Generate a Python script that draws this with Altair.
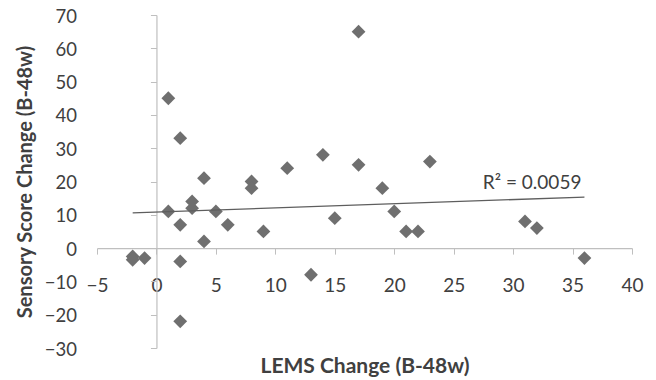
import altair as alt
import pandas as pd

# Data (LEMS change vs sensory score change)
lems = [1, 2, 4, 3, 3, 5, 6, 4, 8, 8, 9, 11, -2, -2, -1, 2, 2, 1, 2,
        17, 14, 17, 23, 19, 15, 20, 21, 22, 13, 31, 32, 36]
sensory = [11, 7, 21, 14, 12, 11, 7, 2, 20, 18, 5, 24, -2.5, -3.5, -3, -4, -22, 45, 33,
           65, 28, 25, 26, 18, 9, 11, 5, 5, -8, 8, 6, -3]

x_ticks = [-5, 0, 5, 10, 15, 20, 25, 30, 35, 40]
y_ticks = [-30, -20, -10, 0, 10, 20, 30, 40, 50, 60, 70]

r2_text = ["R² = 0.0059"]
r2_x = [31.6]
r2_y = [19.5]

x_title = "LEMS Change (B-48w)"
y_title = "Sensory Score Change (B-48w)"

df = pd.DataFrame({"lems": lems, "sensory": sensory})
ann = pd.DataFrame({"lems": r2_x, "sensory": r2_y, "label": r2_text})

W, H = 535, 333
X_MIN, X_MAX = -5, 40
Y_MIN, Y_MAX = -30, 70
FONT = "Lato"
AXIS_COL = "#bfbfbf"
TEXT_COL = "#404040"

xs = alt.Scale(domain=[X_MIN, X_MAX], nice=False, zero=False)
ys = alt.Scale(domain=[Y_MIN, Y_MAX], nice=False, zero=False)

# place axes where the other axis crosses zero
x_axis_offset = -H * (0 - Y_MIN) / (Y_MAX - Y_MIN)
y_axis_offset = -W * (0 - X_MIN) / (X_MAX - X_MIN)

x_axis = alt.Axis(
    values=x_ticks, offset=x_axis_offset, grid=False,
    domainColor=AXIS_COL, tickColor=AXIS_COL, tickSize=6, domainWidth=1.2,
    labelFont=FONT, labelFontSize=19, labelColor=TEXT_COL,
    labelPadding=31, labelBaseline="middle", labelFlush=False, labelOverlap=False,
    title=x_title, titleFont=FONT, titleFontSize=21, titleFontWeight="bold",
    titleColor=TEXT_COL, titleY=118, titleBaseline="middle", titleAlign="center",
)
y_axis = alt.Axis(
    values=y_ticks, offset=y_axis_offset, grid=False,
    domainColor=AXIS_COL, tickColor=AXIS_COL, tickSize=6, domainWidth=1.2,
    labelFont=FONT, labelFontSize=18.5, labelColor=TEXT_COL, labelOffset=1,
    labelPadding=74, labelFlush=False, labelOverlap=False, labelBound=False,
    title=y_title, titleFont=FONT, titleFontSize=20, titleFontWeight="bold",
    titleColor=TEXT_COL, titleX=-131, titleAngle=270,
    titleBaseline="middle", titleAlign="center",
)

points = alt.Chart(df).mark_point(
    shape="diamond", filled=True, size=190, color="#6f6f6f", opacity=1
).encode(
    x=alt.X("lems:Q", scale=xs, axis=x_axis),
    y=alt.Y("sensory:Q", scale=ys, axis=y_axis),
)

trend = alt.Chart(df).transform_regression("lems", "sensory").mark_line(
    color="#5e5e5e", strokeWidth=1.3
).encode(
    x=alt.X("lems:Q", scale=xs, axis=x_axis),
    y=alt.Y("sensory:Q", scale=ys, axis=y_axis),
)

label = alt.Chart(ann).mark_text(
    font=FONT, fontSize=19, color=TEXT_COL, align="center", baseline="middle"
).encode(
    x=alt.X("lems:Q", scale=xs, axis=x_axis),
    y=alt.Y("sensory:Q", scale=ys, axis=y_axis),
    text="label:N",
)

chart = alt.layer(points, trend, label).properties(
    width=W, height=H,
    autosize=alt.AutoSizeParams(type="none"),
    padding={"left": 89, "top": 7, "right": 16, "bottom": 32},
    background="white",
).configure_view(stroke=None)

chart.save("out.html", embed_options={"renderer": "svg", "actions": False})
